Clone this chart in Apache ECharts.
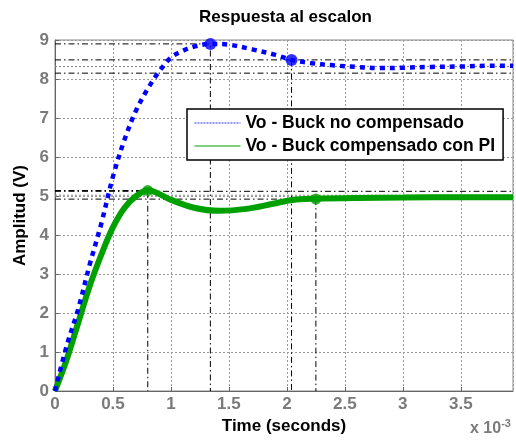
<!DOCTYPE html>
<html lang="es">
<head>
<meta charset="UTF-8">
<title>Respuesta al escalon</title>
<script src="https://cdn.jsdelivr.net/npm/echarts@6/dist/echarts.min.js"></script>
<style>
  html, body { margin: 0; padding: 0; background: #fff; }
  #chart { width: 516px; height: 440px; }
</style>
</head>
<body>
<div id="chart"></div>
<script>
// tiempo en ms (eje x se muestra "x 10^-3")
var blueT = [0, 0.1, 0.2, 0.3, 0.4, 0.5, 0.6, 0.7, 0.8, 0.9, 1.0, 1.1, 1.2, 1.34, 1.5, 1.7, 1.9, 2.04, 2.2, 2.4, 2.6, 2.8, 3.0, 3.25, 3.5, 3.75, 3.95];
var blueV = [0, 1.15, 2.1, 3.25, 4.3, 5.5, 6.45, 7.2, 7.75, 8.2, 8.55, 8.72, 8.83, 8.9, 8.88, 8.76, 8.62, 8.49, 8.41, 8.35, 8.31, 8.28, 8.29, 8.31, 8.32, 8.34, 8.34];

var greenT = [0, 0.1, 0.2, 0.3, 0.4, 0.5, 0.6, 0.7, 0.8, 1.0, 1.2, 1.42, 1.65, 1.88, 2.05, 2.25, 2.6, 3.0, 3.5, 3.95];
var greenV = [0, 0.8, 1.75, 2.7, 3.5, 4.2, 4.7, 5.0, 5.15, 4.9, 4.7, 4.62, 4.67, 4.8, 4.9, 4.93, 4.95, 4.96, 4.97, 4.97];

// caracteristicas: [tPico, vPico, tEstab, vEstab, vFinal, bandaSup, bandaInf]
var blueChar = [1.34, 8.9, 2.04, 8.49, 8.32, 8.49, 8.15];
var greenChar = [0.80, 5.14, 2.25, 4.92, 5.02, 5.12, 4.92];

var xTicks = [0, 0.5, 1, 1.5, 2, 2.5, 3, 3.5];
var yTicks = [0, 1, 2, 3, 4, 5, 6, 7, 8, 9];
var xMax = 3.95;

var names = ['Vo - Buck no compensado', 'Vo - Buck compensado con PI'];

function zip(a, b) {
  return a.map(function (v, i) { return [v, b[i]]; });
}

var dashDot = [6, 3, 1.5, 3];

function refLine(pts, type, color) {
  return {
    type: 'line', data: pts, symbol: 'none', silent: true, z: 1,
    lineStyle: { color: color || '#000', width: 1, type: type || dashDot }
  };
}

function charLines(c) {
  return [
    refLine([[0, c[1]], [c[0], c[1]], [c[0], 0]]),
    refLine([[c[2], c[3]], [c[2], 0]]),
    refLine([[0, c[5]], [xMax, c[5]]]),
    refLine([[0, c[6]], [xMax, c[6]]]),
    refLine([[0, c[4]], [xMax, c[4]]], [2, 2], '#888')
  ];
}

function charMarks(c, color, size) {
  return {
    type: 'scatter', data: [[c[0], c[1]], [c[2], c[3]]], symbol: 'circle',
    symbolSize: size, itemStyle: { color: color }, z: 5, silent: true
  };
}

var gray = '#7a7a7a';
var font = 'Liberation Sans, Arial, sans-serif';
var clear = { color: 'rgba(0,0,0,0)', borderWidth: 0 };

var chart = echarts.init(document.getElementById('chart'));
var series = [].concat(
  charLines(blueChar),
  charLines(greenChar),
  [
    {
      name: names[0], type: 'line', data: zip(blueT, blueV), symbol: 'none',
      smooth: 0.35, z: 4, itemStyle: { color: '#0000ff' },
      lineStyle: { color: '#0000ff', width: 4.5, type: [5, 5], cap: 'butt' }
    },
    {
      name: names[1], type: 'line', data: zip(greenT, greenV), symbol: 'none',
      smooth: 0.35, z: 3, itemStyle: { color: '#00a000' },
      lineStyle: { color: '#00a000', width: 6, type: 'solid' }
    },
    charMarks(blueChar, '#0000ff', 12),
    charMarks(greenChar, '#00a000', 11)
  ]
);

chart.setOption({
  animation: false,
  backgroundColor: '#fff',
  title: {
    text: 'Respuesta al escalon', left: 194, top: 4,
    textStyle: { fontFamily: font, fontSize: 17, fontWeight: 'bold', color: '#000' }
  },
  legend: {
    left: 187, top: 109, orient: 'vertical', itemGap: 5, itemWidth: 46, itemHeight: 12,
    padding: [5, 8, 5, 7],
    backgroundColor: '#fff', borderColor: '#000', borderWidth: 1.5, z: 10,
    textStyle: { fontFamily: font, fontSize: 17.5, fontWeight: 'bold', color: '#000' },
    data: [
      { name: names[0], itemStyle: clear, lineStyle: { width: 1, type: [2, 1], color: '#3333ff' } },
      { name: names[1], itemStyle: clear, lineStyle: { width: 1, type: 'solid', color: '#00a000' } }
    ]
  },
  grid: {
    left: 55, right: 3, top: 40, bottom: 49, show: true,
    borderColor: '#888', borderWidth: 1, backgroundColor: '#fff'
  },
  xAxis: {
    type: 'value', min: 0, max: xMax, interval: 0.5,
    name: 'Time (seconds)', nameLocation: 'middle', nameGap: 26,
    nameTextStyle: { fontFamily: font, fontSize: 17, fontWeight: 'bold', color: '#000' },
    axisLine: { show: true, lineStyle: { color: '#666', width: 1 } },
    axisTick: { show: true, inside: true, length: 4, lineStyle: { color: '#666' } },
    axisLabel: {
      margin: 5, fontFamily: font, fontSize: 17, fontWeight: 'bold', color: gray,
      showMaxLabel: false,
      formatter: function (v) { return xTicks.indexOf(v) >= 0 ? String(v) : ''; }
    },
    splitLine: { show: true, lineStyle: { color: '#999', width: 1, type: [2, 2] } }
  },
  yAxis: {
    type: 'value', min: 0, max: 9, interval: 1,
    name: 'Amplitud (V)', nameLocation: 'middle', nameGap: 26,
    nameTextStyle: { fontFamily: font, fontSize: 17, fontWeight: 'bold', color: '#000' },
    axisLine: { show: true, lineStyle: { color: '#666', width: 1 } },
    axisTick: { show: true, inside: true, length: 4, lineStyle: { color: '#666' } },
    axisLabel: {
      margin: 6, fontFamily: font, fontSize: 17, fontWeight: 'bold', color: gray,
      formatter: function (v) { return yTicks.indexOf(v) >= 0 ? String(v) : ''; }
    },
    splitLine: { show: true, lineStyle: { color: '#999', width: 1, type: [2, 2] } }
  },
  graphic: [{
    type: 'text', left: 470, top: 418,
    style: {
      text: 'x 10{sup|-3}', fill: gray,
      font: 'bold 16px Liberation Sans, Arial, sans-serif',
      rich: { sup: { fontSize: 11, fontWeight: 'bold', fill: gray, verticalAlign: 'top', padding: [0, 0, 10, 0] } }
    }
  }],
  series: series
});
</script>
</body>
</html>
